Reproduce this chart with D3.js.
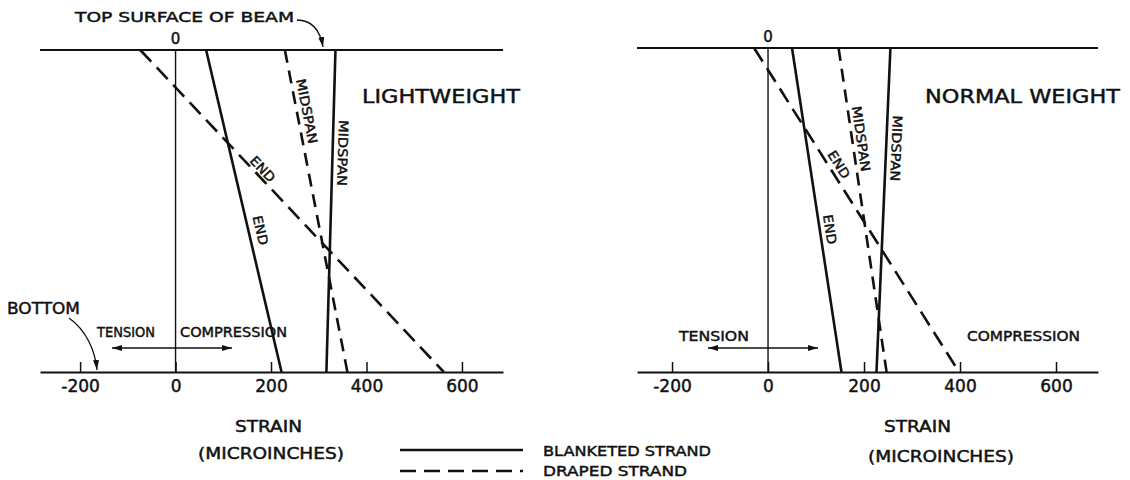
<!DOCTYPE html>
<html>
<head>
<meta charset="utf-8">
<script src="https://cdn.jsdelivr.net/npm/d3@7"></script>
<style>
  body { margin: 0; background: #fff; }
  svg { display: block; font-family: "DejaVu Sans", sans-serif; }
  text { fill: #111; stroke: #111; stroke-width: 0.45px; }
</style>
</head>
<body>
<div id="container"></div>
<script>
// strain (microinches) at the top surface and at the bottom of the beam
const strainTicks = [-200, 0, 200, 400, 600];
const depth = [0, 1]; // 0 = top surface, 1 = bottom

const lwBlanketEnd = [64, 222];
const lwBlanketMid = [335, 316];
const lwDrapedEnd = [-74, 562];
const lwDrapedMid = [229, 360];

const nwBlanketEnd = [50, 153];
const nwBlanketMid = [255, 226];
const nwDrapedEnd = [-29, 398];
const nwDrapedMid = [147, 247];

const width = 1130, height = 480;
const ink = "#111";

const svg = d3.select("#container").append("svg")
  .attr("width", width)
  .attr("height", height);

const defs = svg.append("defs");
defs.append("marker")
  .attr("id", "head")
  .attr("viewBox", "0 0 10 6")
  .attr("refX", 10).attr("refY", 3)
  .attr("markerWidth", 10).attr("markerHeight", 6)
  .attr("markerUnits", "userSpaceOnUse")
  .attr("orient", "auto-start-reverse")
  .append("path")
  .attr("d", "M0,0L10,3L0,6z")
  .attr("fill", ink);

function label(g, txt, x, y, size, len, anchor) {
  const t = g.append("text")
    .attr("x", x).attr("y", y)
    .attr("font-size", size)
    .attr("text-anchor", anchor || "start")
    .text(txt);
  if (len) t.attr("textLength", len).attr("lengthAdjust", "spacingAndGlyphs");
  return t;
}

function panel(opt) {
  const g = svg.append("g");
  const x = d3.scaleLinear().domain(opt.xDomain).range(opt.xRange);
  const y = d3.scaleLinear().domain([0, 1]).range(opt.yRange);

  // top surface of beam
  g.append("line")
    .attr("x1", opt.xRange[0]).attr("x2", opt.xRange[1])
    .attr("y1", y(0)).attr("y2", y(0))
    .attr("stroke", ink).attr("stroke-width", 2);

  // zero strain line
  g.append("line")
    .attr("x1", x(0)).attr("x2", x(0))
    .attr("y1", y(0)).attr("y2", y(1))
    .attr("stroke", ink).attr("stroke-width", 1.4);

  const axis = d3.axisBottom(x)
    .tickValues(strainTicks)
    .tickSizeInner(-10)
    .tickSizeOuter(0)
    .tickPadding(8)
    .tickFormat(d => d < 0 ? "-" + Math.abs(d) : d);
  const ax = g.append("g")
    .attr("transform", "translate(0," + y(1) + ")")
    .call(axis);
  ax.select(".domain").attr("stroke", ink).attr("stroke-width", 2);
  ax.selectAll(".tick line").attr("stroke", ink).attr("stroke-width", 1.5);
  ax.selectAll(".tick text")
    .attr("font-size", 17)
    .attr("font-family", "DejaVu Sans, sans-serif")
    .attr("fill", ink);

  // "0" above the top surface
  label(g, "0", x(0), y(0) - 6, 15, null, "middle");

  const line = d3.line()
    .x((d, i) => x(d))
    .y((d, i) => y(depth[i]));

  opt.series.forEach(s => {
    g.append("path")
      .attr("d", line(s.values))
      .attr("fill", "none")
      .attr("stroke", ink)
      .attr("stroke-width", 2.6)
      .attr("stroke-dasharray", s.dashed ? s.dash : null);

    const v = s.values[0] + (s.values[1] - s.values[0]) * s.at;
    const lx = x(v) + s.off;
    const ly = y(s.at);
    const ang = Math.atan2(y(1) - y(0), x(s.values[1]) - x(s.values[0])) * 180 / Math.PI;
    g.append("text")
      .attr("transform", "translate(" + lx + "," + ly + ") rotate(" + ang + ")")
      .attr("text-anchor", "middle")
      .attr("dominant-baseline", "central")
      .attr("font-size", 13)
      .attr("textLength", s.len)
      .attr("lengthAdjust", "spacingAndGlyphs")
      .text(s.label);
  });

  label(g, opt.title, opt.titleX, 103, 19, opt.titleLen);

  label(g, "TENSION", opt.tension[0], opt.tension[1], 14, opt.tension[2]);
  label(g, "COMPRESSION", opt.compression[0], opt.compression[1], 14, opt.compression[2]);

  g.append("line")
    .attr("x1", opt.arrow[0]).attr("x2", opt.arrow[1])
    .attr("y1", 348).attr("y2", 348)
    .attr("stroke", ink).attr("stroke-width", 1.3)
    .attr("marker-start", "url(#head)")
    .attr("marker-end", "url(#head)");

  label(g, "STRAIN", opt.strain[0], 432, 15, 67);
  label(g, "(MICROINCHES)", opt.micro[0], opt.micro[1], 15, 146);
  return { x, y, g };
}

panel({
  xDomain: [-284, 686], xRange: [40, 503], yRange: [50, 372],
  series: [
    { values: lwBlanketEnd, dashed: false, label: "END", at: 0.56, off: 12, len: 30 },
    { values: lwBlanketMid, dashed: false, label: "MIDSPAN", at: 0.32, off: 10, len: 66 },
    { values: lwDrapedEnd, dashed: true, dash: "16,8", label: "END", at: 0.37, off: 10, len: 30 },
    { values: lwDrapedMid, dashed: true, dash: "13,8", label: "MIDSPAN", at: 0.19, off: 10, len: 66 }
  ],
  title: "LIGHTWEIGHT", titleX: 362, titleLen: 158,
  tension: [97, 337, 58], compression: [180, 337, 107], arrow: [112, 232],
  strain: [235], micro: [198, 459]
});

panel({
  xDomain: [-273, 687.5], xRange: [637, 1098], yRange: [48, 372],
  series: [
    { values: nwBlanketEnd, dashed: false, label: "END", at: 0.56, off: 10, len: 30 },
    { values: nwBlanketMid, dashed: false, label: "MIDSPAN", at: 0.31, off: 10, len: 66 },
    { values: nwDrapedEnd, dashed: true, dash: "16,8", label: "END", at: 0.36, off: 11, len: 30 },
    { values: nwDrapedMid, dashed: true, dash: "13,8", label: "MIDSPAN", at: 0.28, off: 9, len: 66 }
  ],
  title: "NORMAL  WEIGHT", titleX: 925, titleLen: 195,
  tension: [679, 341, 70], compression: [967, 341, 113], arrow: [708, 818],
  strain: [884], micro: [868, 462]
});

// callouts on the left panel
label(svg, "TOP SURFACE OF BEAM", 75, 22, 14, 219);
svg.append("path")
  .attr("d", "M297,20C312,20 320,30 323,47")
  .attr("fill", "none").attr("stroke", ink).attr("stroke-width", 1.3)
  .attr("marker-end", "url(#head)");

label(svg, "BOTTOM", 7, 314, 15, 73);
svg.append("path")
  .attr("d", "M69,318C86,330 95,350 97,370")
  .attr("fill", "none").attr("stroke", ink).attr("stroke-width", 1.3)
  .attr("marker-end", "url(#head)");

// legend
const legend = svg.append("g");
legend.append("line")
  .attr("x1", 400).attr("x2", 523).attr("y1", 450).attr("y2", 450)
  .attr("stroke", ink).attr("stroke-width", 2.6);
legend.append("line")
  .attr("x1", 400).attr("x2", 523).attr("y1", 471).attr("y2", 471)
  .attr("stroke", ink).attr("stroke-width", 2.6)
  .attr("stroke-dasharray", "16,8");
label(legend, "BLANKETED STRAND", 543, 456, 14, 168);
label(legend, "DRAPED STRAND", 543, 476, 14, 144);
</script>
</body>
</html>
